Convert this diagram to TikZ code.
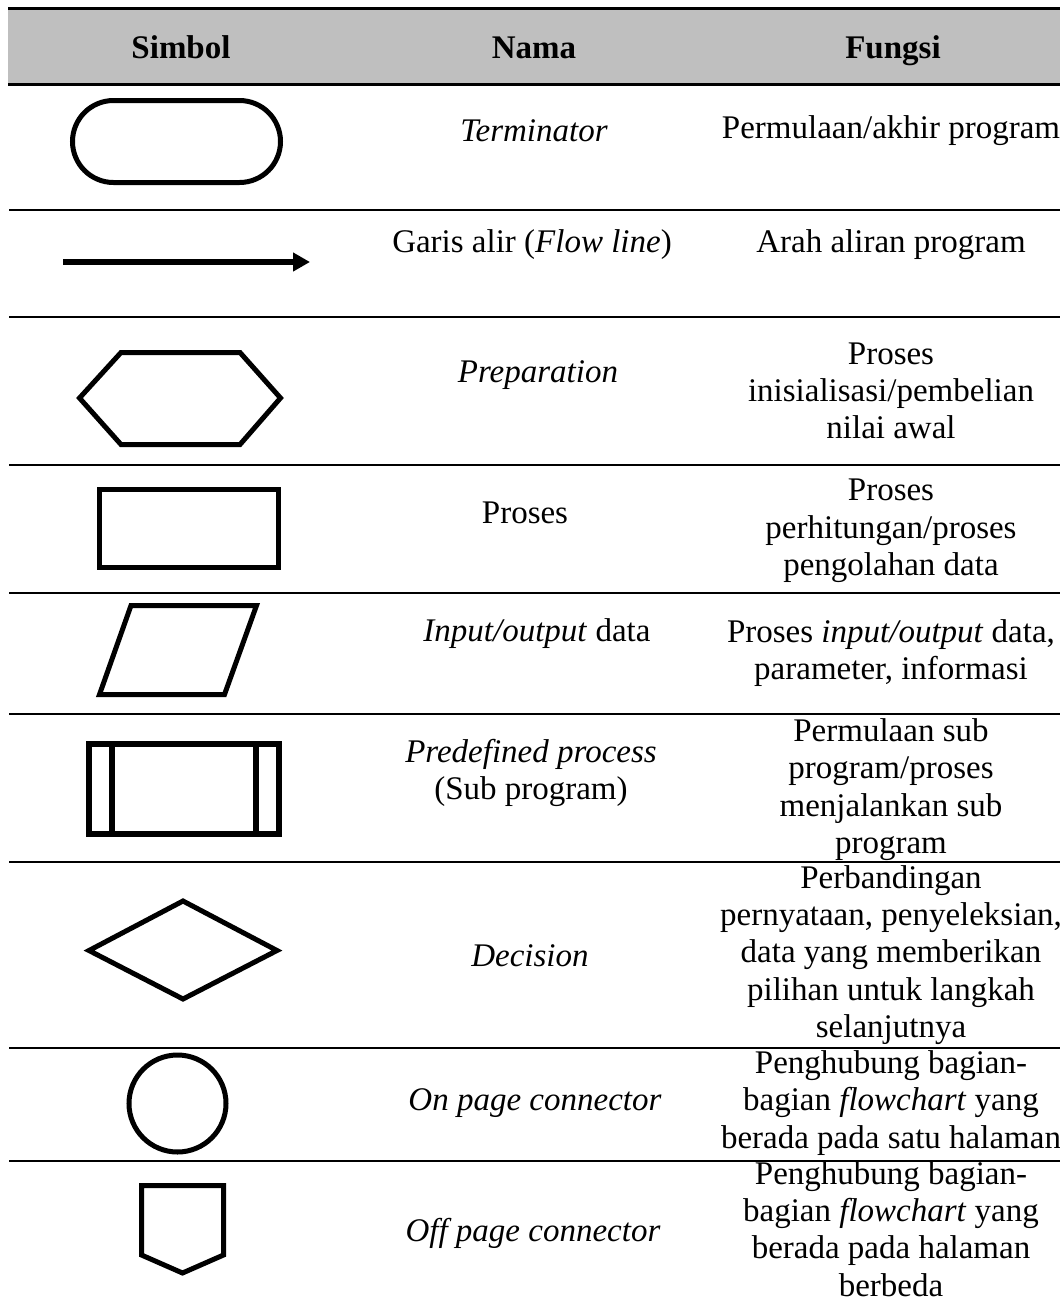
\documentclass[tikz,border=0pt]{standalone}
\usepackage{fontspec}
\setmainfont{Liberation Serif}
\usetikzlibrary{arrows.meta}
\definecolor{headgray}{RGB}{191,191,191}
\begin{document}
\begin{tikzpicture}[x=1pt,y=-1pt,
  headrule/.style={line width=3.5pt},
  rowrule/.style={line width=2.6pt},
  sym/.style={line width=5pt,line join=miter},
  cell/.style={align=center,inner sep=0pt,font=\fontsize{33}{37.3}\selectfont},
  headcell/.style={inner sep=0pt,text height=23pt,text depth=7pt,
    font=\fontsize{33}{37.3}\selectfont\bfseries}]
\useasboundingbox (0,0) rectangle (1060,1302);

% header band and rules
\fill[headgray] (8,10) rectangle (1060,83);
\draw[headrule] (8,8.5) -- (1060,8.5);
\draw[headrule] (8,84.5) -- (1060,84.5);
\node[headcell] (hSimbol) at (181,50.5) {Simbol};
\node[headcell] (hNama)   at (534,50.5) {Nama};
\node[headcell] (hFungsi) at (893,50.5) {Fungsi};

% row separators
\foreach \yy in {210,317,465,593,714,862,1048,1161}
  \draw[rowrule] (9,\yy) -- (1060,\yy);

% --- Terminator
\draw[sym,rounded corners=41pt] (72.5,100.5) rectangle (280.5,182.5);
\node[cell] (n1) at (534,131) {\textit{Terminator}};
\node[cell] (f1) at (891,131) {Permulaan/akhir program};

% --- Flow line
\coordinate (flowA) at (63,262);
\coordinate (flowB) at (310,262);
\draw[line width=6pt,-{Triangle[length=17pt,width=18pt]}] (flowA) -- (flowB);
\node[cell] (n2) at (532,245) {Garis alir (\textit{Flow line})};
\node[cell] (f2) at (891,245) {Arah aliran program};

% --- Preparation
\draw[sym] (79.5,398) -- (121,352.5) -- (240,352.5) -- (280.5,398)
  -- (240,444.5) -- (121,444.5) -- cycle;
\node[cell] (n3) at (538,375) {\textit{Preparation}};
\node[cell] (f3) at (891,391) {Proses\\inisialisasi/pembelian\\nilai awal};

% --- Process
\draw[sym] (99.5,489.5) rectangle (278.5,567.5);
\node[cell] (n4) at (525,513) {Proses};
\node[cell] (f4) at (891,531) {Proses\\perhitungan/proses\\pengolahan data};

% --- Input/output
\draw[sym] (131,605.5) -- (256.5,605.5) -- (224.5,694.5) -- (99.5,694.5) -- cycle;
\node[cell] (n5) at (537,634) {\textit{Input/output} data};
\node[cell] (f5) at (891,653) {Proses \textit{input/output} data,\\parameter, informasi};

% --- Predefined process
\draw[line width=6pt] (89,744) rectangle (279,834);
\draw[line width=6pt] (112,744) -- (112,834);
\draw[line width=6pt] (255.5,744) -- (255.5,834);
\node[cell] (n6) at (531,773) {\textit{Predefined process}\\(Sub program)};
\node[cell] (f6) at (891,789.5) {Permulaan sub\\program/proses\\menjalankan sub\\program};

% --- Decision
\draw[sym] (89,950.5) -- (183,901) -- (277,950.5) -- (183,999) -- cycle;
\node[cell] (n7) at (530,956) {\textit{Decision}};
\node[cell] (f7) at (891,955) {Perbandingan\\pernyataan, penyeleksian,\\data yang memberikan\\pilihan untuk langkah\\selanjutnya};

% --- On page connector
\draw[sym] (177.5,1103.5) circle[radius=48.5pt];
\node[cell] (n8) at (535,1103) {\textit{On page connector}};
\node[cell] (f8) at (891,1103) {Penghubung bagian-\\bagian \textit{flowchart} yang\\berada pada satu halaman};

% --- Off page connector
\draw[sym] (141.5,1185.5) -- (223.5,1185.5) -- (223.5,1255) -- (182.5,1273)
  -- (141.5,1255) -- cycle;
\node[cell] (n9) at (533,1233) {\textit{Off page connector}};
\node[cell] (f9) at (891,1229) {Penghubung bagian-\\bagian \textit{flowchart} yang\\berada pada halaman\\berbeda};
\end{tikzpicture}
\end{document}
